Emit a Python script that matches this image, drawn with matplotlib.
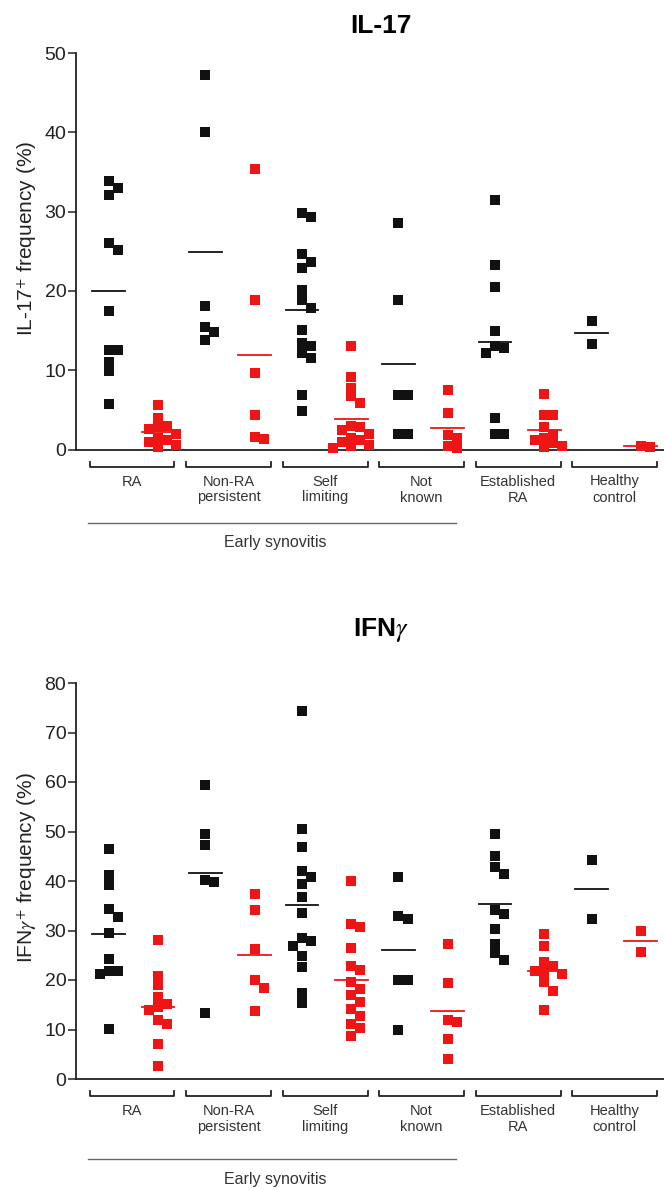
import matplotlib
matplotlib.use('Agg')
import matplotlib.pyplot as plt
from matplotlib import transforms
import numpy as np

plt.rcParams['font.family'] = ['Liberation Sans', 'DejaVu Sans']
plt.rcParams['mathtext.fontset'] = 'stix'

groups = ['RA', 'Non-RA\npersistent', 'Self\nlimiting', 'Not\nknown', 'Established\nRA', 'Healthy\ncontrol']

# IL-17 panel, black = first column, red = second column of each group
il17_black = [[33.0, 32.1, 33.8, 26.0, 25.1, 17.5, 12.6, 12.6, 11.0, 9.9, 5.8],
              [47.2, 40.0, 18.1, 15.4, 14.8, 13.8],
              [29.8, 29.3, 24.6, 23.7, 22.9, 20.1, 18.8, 17.8, 15.1, 13.4, 13.0, 12.2, 11.5, 6.9, 4.8],
              [28.5, 18.9, 6.9, 6.9, 1.9, 1.9],
              [31.4, 23.3, 20.5, 15.0, 13.0, 12.8, 12.2, 4.0, 1.9, 1.9],
              [16.2, 13.3]]
il17_red = [[5.6, 4.0, 3.0, 2.9, 2.6, 2.0, 1.5, 1.2, 1.0, 0.6, 0.3],
            [35.4, 18.8, 9.7, 4.4, 1.3, 1.6],
            [13.0, 9.1, 7.8, 6.7, 5.9, 3.0, 2.8, 2.5, 2.0, 1.5, 1.2, 1.0, 0.6, 0.4, 0.2],
            [7.5, 4.6, 1.8, 1.5, 0.4, 0.2],
            [7.0, 4.3, 4.3, 2.8, 2.0, 1.5, 1.2, 0.8, 0.5, 0.3],
            [0.5, 0.3]]

# IFN-gamma panel
ifng_black = [[46.4, 41.3, 39.1, 34.3, 32.8, 29.5, 24.3, 21.9, 21.8, 21.2, 10.2],
              [59.4, 49.4, 47.2, 40.3, 39.8, 13.4],
              [74.3, 50.6, 46.9, 42.0, 40.8, 39.3, 36.8, 33.5, 28.4, 27.8, 26.8, 24.9, 22.6, 17.3, 15.3],
              [40.8, 33.0, 32.3, 20.0, 20.0, 9.9],
              [49.4, 45.1, 42.8, 41.5, 34.2, 33.4, 30.3, 27.3, 25.5, 24.1],
              [44.2, 32.4]]
ifng_red = [[28.0, 20.9, 19.0, 16.6, 15.1, 14.6, 13.9, 12.0, 11.2, 7.0, 2.6],
            [37.3, 34.1, 26.3, 19.9, 18.4, 13.8],
            [39.9, 31.4, 30.7, 26.5, 22.9, 22.0, 19.5, 18.2, 17.0, 15.5, 14.1, 12.8, 11.1, 10.4, 8.7],
            [27.3, 19.4, 12.0, 11.6, 8.0, 4.0],
            [29.3, 26.8, 23.6, 22.9, 21.9, 21.6, 21.2, 19.5, 17.8, 13.9],
            [30.0, 25.7]]

BLACK = '#111111'
RED = '#ee1515'
TEXT = '#333333'

W, H = 664, 1190
fig = plt.figure(figsize=(W / 100, H / 100), dpi=100)


def swarm(values, ppu_x, ppu_y, size=9.5):
    ''' simple column scatter: push overlapping points sideways '''
    values = np.asarray(values, dtype=float)
    offs = np.zeros(len(values))
    placed = []
    for idx in np.argsort(values)[::-1]:
        y = values[idx] * ppu_y
        for k in [0, 1, -1, 2, -2, 3, -3, 4, -4]:
            dx = k * size * 0.95
            if all(abs(dx - px) >= size * 0.9 or abs(y - py) >= size * 0.9 for px, py in placed):
                break
        placed.append((dx, y))
        offs[idx] = dx / ppu_x
    return offs


def panel(ax_px, black, red, ymax, ystep, ylabel, ylabel_y, line_dy, text_dy):
    left, top, right, bottom = ax_px
    ah = bottom - top
    ax = fig.add_axes([left / W, 1 - bottom / H, (right - left) / W, ah / H])
    ax.set_xlim(-0.58, 5.51)
    ax.set_ylim(0, ymax)
    ppu_x = (right - left) / 6.09
    ppu_y = ah / ymax

    for i in range(len(groups)):
        for vals, shift, col in ((black[i], -0.24, BLACK), (red[i], 0.27, RED)):
            xs = i + shift + swarm(vals, ppu_x, ppu_y)
            ax.plot(xs, vals, 's', color=col, ms=6.8, mew=0, clip_on=False, zorder=3)
            m = np.mean(vals)
            ax.plot([i + shift - 0.17, i + shift + 0.17], [m, m], color=col, lw=1.3, zorder=4)

    for s in ['top', 'right']:
        ax.spines[s].set_visible(False)
    for s in ['left', 'bottom']:
        ax.spines[s].set_linewidth(1.3)
        ax.spines[s].set_color('#222222')
    ax.set_xticks([])
    ax.set_yticks(np.arange(0, ymax + 1, ystep))
    ax.tick_params(axis='y', length=6, width=1.1, labelsize=14, pad=1, colors='#222222')

    # brackets and group names under the axis
    trans = transforms.blended_transform_factory(ax.transData, ax.transAxes)
    fy = lambda px: -px / ah
    for i, name in enumerate(groups):
        ax.plot([i - 0.44, i - 0.44, i + 0.44, i + 0.44], [fy(12), fy(17), fy(17), fy(12)],
                color='#222222', lw=1.3, transform=trans, clip_on=False)
        for k, line in enumerate(name.split('\n')):
            ax.text(i, fy(36 + 16 * k), line, transform=trans, ha='center', va='baseline',
                    fontsize=10.5, color=TEXT)

    ax.plot([-0.456, 3.36], [fy(line_dy), fy(line_dy)], color='#666666', lw=1.0,
            transform=trans, clip_on=False)
    ax.text(1.48, fy(text_dy + 6), 'Early synovitis', transform=trans, ha='center',
            va='baseline', fontsize=11.5, color=TEXT)

    fig.text(27 / W, 1 - ylabel_y / H, ylabel, rotation=90, ha='center', va='center',
             fontsize=15, color='#222222')
    return ax


panel((76, 53, 664, 449.5), il17_black, il17_red, 50, 10,
      'IL-17$^{+}$ frequency (%)', 238, 73, 92)
panel((76, 683, 664, 1079), ifng_black, ifng_red, 80, 10,
      'IFN$\\gamma^{+}$ frequency (%)', 868, 80, 99)

fig.text(381 / W, 1 - 33 / H, 'IL-17', ha='center', va='baseline', fontsize=19, fontweight='bold')
fig.text(381 / W, 1 - 636 / H, 'IFN$\\gamma$', ha='center', va='baseline', fontsize=19, fontweight='bold')

fig.savefig('out.png', dpi=100)
